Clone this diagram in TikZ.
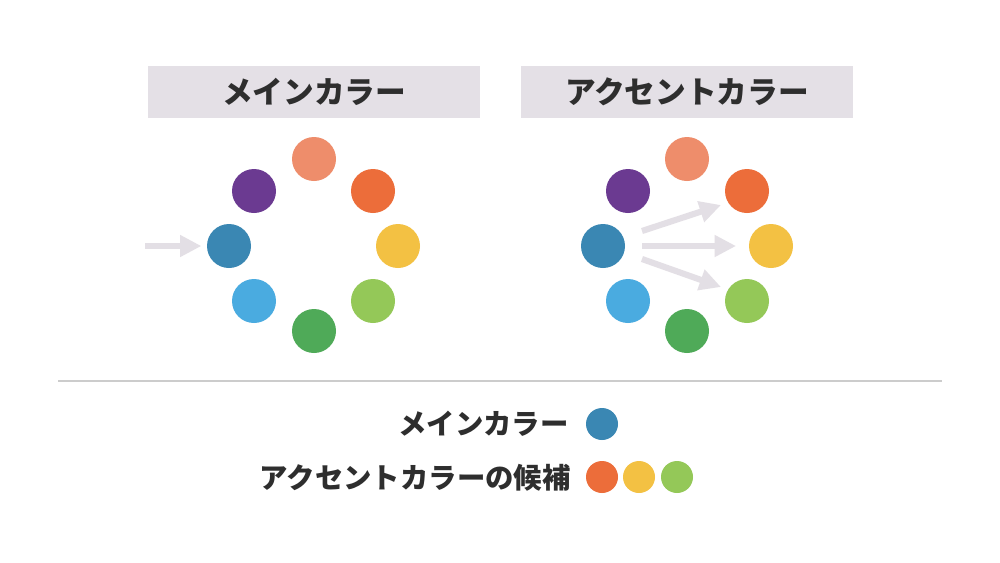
\documentclass[tikz,border=0pt]{standalone}
\usepackage{fontspec}
\newfontfamily\jp{Noto Sans CJK JP}
\usetikzlibrary{arrows.meta}
\definecolor{cSalmon}{HTML}{EE8D6B}
\definecolor{cOrange}{HTML}{EC6D3A}
\definecolor{cYellow}{HTML}{F3C143}
\definecolor{cLGreen}{HTML}{94C858}
\definecolor{cGreen}{HTML}{4FAA58}
\definecolor{cLBlue}{HTML}{4AABE0}
\definecolor{cBlue}{HTML}{3A87B3}
\definecolor{cPurple}{HTML}{6B3A91}
\definecolor{cBox}{HTML}{E4E0E6}
\definecolor{cArrow}{HTML}{E3DFE5}
\definecolor{cText}{HTML}{2E2E2E}
\definecolor{cRule}{HTML}{CCCCCC}
\tikzset{
  dot/.style={circle,inner sep=0pt,minimum size=33pt,fill=#1},
  ldot/.style={circle,inner sep=0pt,minimum size=24pt,fill=#1},
  header/.style={fill=cBox,minimum width=249pt,minimum height=39pt,inner sep=0pt,
     font=\jp\bfseries\fontsize{23pt}{26pt}\selectfont,text=cText},
  legend/.style={anchor=east,inner sep=0pt,font=\jp\bfseries\fontsize{21.3pt}{24pt}\selectfont,text=cText},
  arr/.style={draw=cArrow,line width=4.6pt,-{Triangle[length=16pt,width=15.5pt]}}
}
\begin{document}
\begin{tikzpicture}[x=0.75pt,y=-0.75pt]
\useasboundingbox (0,0) rectangle (1000,562);
\fill[white] (0,0) rectangle (1000,562);
% headers
\node[header] (h1) at (314,92) {メインカラー};
\node[header] (h2) at (687,92) {アクセントカラー};
% left wheel
\node[dot=cSalmon] (l1) at (314,159) {};
\node[dot=cOrange] (l2) at (373,191) {};
\node[dot=cYellow] (l3) at (398,246) {};
\node[dot=cLGreen] (l4) at (373,301) {};
\node[dot=cGreen]  (l5) at (314,331) {};
\node[dot=cLBlue]  (l6) at (254,301) {};
\node[dot=cBlue]   (l7) at (229,246) {};
\node[dot=cPurple] (l8) at (254,191) {};
\coordinate (la) at (145,246);
\draw[arr,shorten >=4pt] (la) -- (l7.west);
% right wheel
\node[dot=cSalmon] (r1) at (687,159) {};
\node[dot=cOrange] (r2) at (747,191) {};
\node[dot=cYellow] (r3) at (771,246) {};
\node[dot=cLGreen] (r4) at (747,301) {};
\node[dot=cGreen]  (r5) at (687,331) {};
\node[dot=cLBlue]  (r6) at (628,301) {};
\node[dot=cBlue]   (r7) at (603,246) {};
\node[dot=cPurple] (r8) at (628,191) {};
\coordinate (s1) at (642,231);
\coordinate (e1) at (721,205);
\coordinate (s2) at (642,246);
\coordinate (e2) at (736,246);
\coordinate (s3) at (642,259);
\coordinate (e3) at (721,287);
\draw[arr] (s1) -- (e1);
\draw[arr] (s2) -- (e2);
\draw[arr] (s3) -- (e3);
% separator
\coordinate (ra) at (58,381);
\coordinate (rb) at (942,381);
\draw[cRule,line width=0.8pt] (ra) -- (rb);
% legend
\node[legend] (t1) at (569,424) {メインカラー};
\node[ldot=cBlue] (m1) at (602,424) {};
\node[legend] (t2) at (571,478) {アクセントカラーの候補};
\node[ldot=cOrange] (a1) at (602,477) {};
\node[ldot=cYellow] (a2) at (639,477) {};
\node[ldot=cLGreen] (a3) at (677,477) {};
\end{tikzpicture}
\end{document}
